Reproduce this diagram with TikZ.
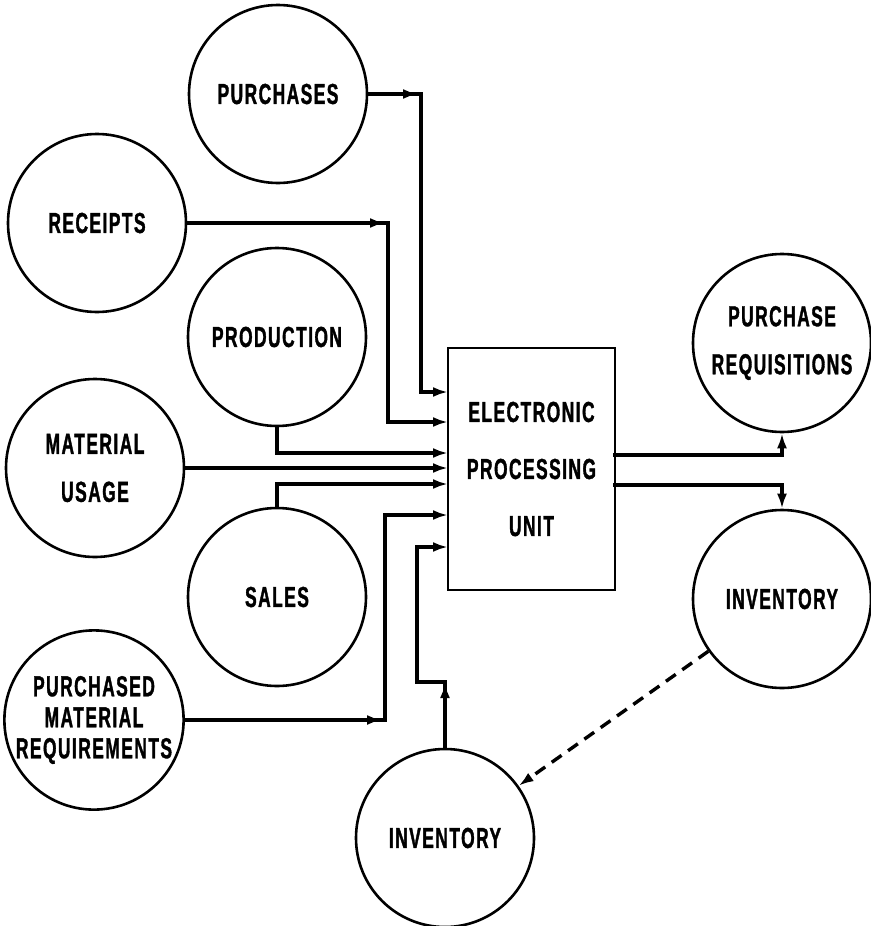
\documentclass[tikz,border=0pt]{standalone}
\usepackage{fontspec}
\newfontfamily\labelfont[FakeStretch=0.6,LetterSpace=5,FakeBold=1.2]{Liberation Sans}
\usetikzlibrary{arrows.meta,decorations.markings}

\begin{document}
\begin{tikzpicture}[x=1pt,y=-1pt,>={Latex[length=15pt,width=10pt]},
  every node/.style={font=\labelfont\bfseries\fontsize{29}{48}\selectfont,align=center},
  ring/.style={draw,circle,line width=2.6pt,minimum size=178pt,inner sep=0pt},
  leg/.style={line width=3.4pt,line cap=rect},
  flow/.style={leg,->},
  tip/.style={postaction={decorate},decoration={markings,mark=at position #1 with {\arrow{>}}}}]
\useasboundingbox (0,0) rectangle (870,926);
% sources
\node[ring] (purch) at (278,94) {PURCHASES};
\node[ring] (recpt) at (97,223) {RECEIPTS};
\node[ring] (prod) at (277,337) {PRODUCTION};
\node[ring] (usage) at (95,468) {MATERIAL\\USAGE};
\node[ring,font=\labelfont\bfseries\fontsize{29}{31}\selectfont] (pmr) at (94,720) {PURCHASED\\MATERIAL\\REQUIREMENTS};
\node[ring] (sales) at (277,597) {SALES};
\node[ring] (invB) at (445,838) {INVENTORY};
% processor and outputs
\node[draw,line width=2.8pt,minimum width=167pt,minimum height=242pt,inner sep=0pt,
  font=\labelfont\bfseries\fontsize{29}{57}\selectfont] (epu) at (531.5,469) {ELECTRONIC\\PROCESSING\\UNIT};
\node[ring] (preq) at (782,343) {PURCHASE\\REQUISITIONS};
\node[ring] (invR) at (782,599) {INVENTORY};
% entry points and corners
\coordinate (in1) at (448,392);
\coordinate (in2) at (448,422);
\coordinate (in3) at (448,453);
\coordinate (in4) at (448,468);
\coordinate (in5) at (448,484);
\coordinate (in6) at (448,515);
\coordinate (in7) at (448,547);
\coordinate (kP) at (421,94);
\coordinate (kR) at (388,223);
\coordinate (kM) at (385,720);
\coordinate (kI) at (445,682);
\coordinate (kJ) at (417,682);
\coordinate (out1) at (615,455);
\coordinate (out2) at (615,485);
% connectors
\draw[leg,tip=-3pt] (purch.east) -- (kP);
\draw[flow] (kP) |- (in1);
\draw[leg,tip=-3pt] (recpt.east) -- (kR);
\draw[flow] (kR) |- (in2);
\draw[flow] (prod.south) |- (in3);
\draw[flow] (usage.east) -- (in4);
\draw[flow] (sales.north) |- (in5);
\draw[leg,tip=-3pt] (pmr.east) -- (kM);
\draw[flow] (kM) |- (in6);
\draw[leg,tip=-1pt] (invB.north) -- (kI);
\draw[flow] (kI) -- (kJ) |- (in7);
\draw[flow] (out1) -| (preq.south);
\draw[flow] (out2) -| (invR.north);
\draw[line width=3.4pt,dash pattern=on 12pt off 8pt,->] (invR) -- (invB);
\end{tikzpicture}
\end{document}
